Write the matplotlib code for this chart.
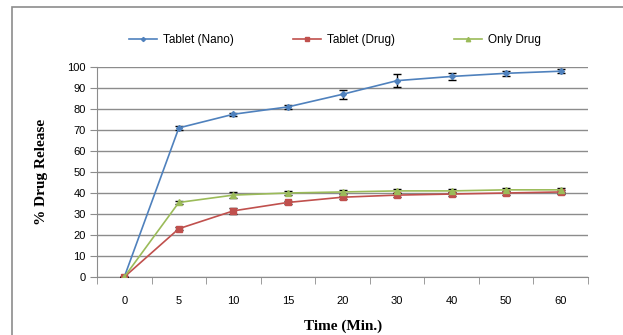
import numpy as np
import matplotlib.pyplot as plt
from matplotlib.patches import Rectangle
from matplotlib.lines import Line2D

time_labels = ['0', '5', '10', '15', '20', '30', '40', '50', '60']
nano = [0, 71, 77.5, 81, 87, 93.5, 95.5, 97, 98]
nano_err = [0, 1.0, 0.8, 0.8, 2.0, 3.0, 1.5, 1.2, 1.0]
tab_drug = [0, 23, 31.5, 35.5, 38, 39, 39.5, 40, 40.5]
tab_drug_err = [0, 0.7, 1.5, 0.8, 0.8, 0.8, 0.8, 0.8, 0.8]
only_drug = [0, 35.5, 39, 40, 40.5, 41, 41, 41.5, 41.5]
only_drug_err = [0, 0.8, 1.3, 0.8, 1.0, 1.0, 1.0, 1.0, 1.0]

x = np.arange(len(time_labels))

fig = plt.figure(figsize=(6.23, 3.35), dpi=100)
# outer chart frame (right and bottom edges fall outside the picture)
fig.patches.append(Rectangle((12/623, -0.1), 1.1, (335-7)/335 + 0.1, transform=fig.transFigure,
                             fill=False, edgecolor='#8c8c8c', linewidth=1.2))

ax = fig.add_axes([97/623, 1-277/335, (588-97)/623, (277-67)/335])

series = [
    (nano, nano_err, 'Tablet (Nano)', '#4F81BD', 'D', 3),
    (tab_drug, tab_drug_err, 'Tablet (Drug)', '#C0504D', 's', 4),
    (only_drug, only_drug_err, 'Only Drug', '#9BBB59', '^', 4.5),
]
handles = []
for vals, err, lab, col, mk, ms in series:
    ax.errorbar(x, vals, yerr=err, color=col, marker=mk, markersize=ms, linewidth=1.2,
                ecolor='black', elinewidth=1, capsize=3, capthick=1, zorder=3)
    handles.append(Line2D([], [], color=col, marker=mk, markersize=ms * 0.7, linewidth=1.2, label=lab))

ax.set_xlim(-0.5, len(time_labels) - 0.5)
ax.set_ylim(0, 100)
ax.set_yticks(np.arange(0, 101, 10))
ax.set_xticks(x)
ax.set_xticklabels(time_labels, fontsize=8, family='Liberation Sans')
ax.set_xticks(np.arange(-0.5, len(time_labels)), minor=True)
ax.tick_params(axis='x', which='major', length=0, pad=14)
ax.tick_params(axis='x', which='minor', length=5, color='#8c8c8c', direction='out')
ax.tick_params(axis='y', length=5, color='#8c8c8c', labelsize=8, pad=3)
for t in ax.get_yticklabels():
    t.set_family('Liberation Sans')

ax.grid(axis='y', color='#8c8c8c', linewidth=1)
ax.set_axisbelow(True)
for s in ['top', 'right']:
    ax.spines[s].set_visible(False)
for s in ['left', 'bottom']:
    ax.spines[s].set_color('#8c8c8c')

ax.set_ylabel('% Drug Release', family='Liberation Serif', fontweight='bold', fontsize=11, labelpad=14)
fig.text(343/623, 1-326/335, 'Time (Min.)', family='Liberation Serif', fontweight='bold',
         fontsize=11, ha='center', va='center')

fig.legend(handles=handles, loc='center left', bbox_to_anchor=(118/623, 1-40/335), ncol=3,
           frameon=False, prop={'family': 'Liberation Sans', 'size': 8.5},
           columnspacing=5.0, handlelength=2.4, handletextpad=0.5)

fig.savefig('out.png', dpi=100)
